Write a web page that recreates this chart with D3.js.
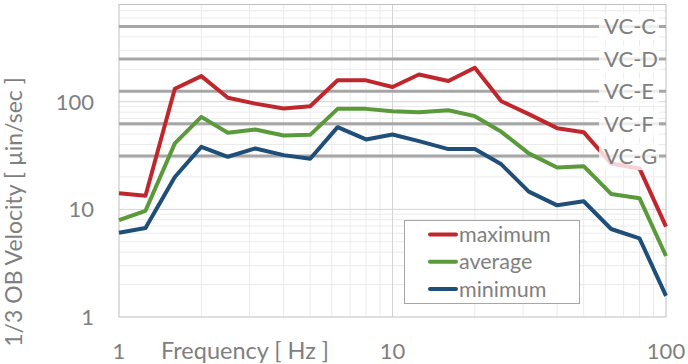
<!DOCTYPE html>
<html>
<head>
<meta charset="utf-8">
<script src="https://cdn.jsdelivr.net/npm/d3@7"></script>
<style>
  body { margin: 0; background: #fff; }
  svg text { font-family: Lato, "Open Sans", sans-serif; fill: #7f7f7f; }
</style>
</head>
<body>
<svg id="chart" width="688" height="364"></svg>
<script>
// 1/3 octave band centre frequencies
var freqs = [1, 1.25, 1.6, 2, 2.5, 3.15, 4, 5, 6.3, 8, 10, 12.5, 16, 20, 25, 31.5, 40, 50, 63, 80, 100];
var maximum = [14.1, 13.4, 132, 173, 109, 96, 86.5, 90.8, 158, 158, 137, 179, 156, 207, 101, 76.6, 56.8, 52.1, 26.7, 24.0, 6.9];
var average = [7.96, 9.7, 41, 72.3, 51.4, 55.2, 48.5, 49.2, 85.8, 85.8, 81.6, 79.9, 83.4, 73.4, 52.5, 33.1, 24.5, 25.2, 13.9, 12.7, 3.69];
var minimum = [6.07, 6.71, 20, 38.1, 30.8, 36.8, 31.9, 29.5, 58.0, 44.6, 49.6, 43.0, 36.3, 36.3, 26.2, 14.6, 10.9, 11.9, 6.57, 5.38, 1.57];

// vibration criteria curves
var vcNames = ["VC-C", "VC-D", "VC-E", "VC-F", "VC-G"];
var vcValues = [500, 250, 125, 62.5, 31.25];

var xTicks = [1, 10, 100];
var yTicks = [1, 10, 100];

var series = [
  {name: "maximum", values: maximum, color: "#c0272d"},
  {name: "average", values: average, color: "#5a9a3a"},
  {name: "minimum", values: minimum, color: "#1f4e79"}
];

var svg = d3.select("#chart");
var pl = 119, pr = 666, pt = 4.5, pb = 317;

var x = d3.scaleLog().domain([1, 100]).range([pl, pr]);
var y = d3.scaleLog().domain([1, 800]).range([pb, pt]);

// minor grid
var minorX = [];
[1, 10].forEach(function(d) { for (var k = 2; k <= 9; k++) minorX.push(d * k); });
var minorY = [];
[1, 10, 100].forEach(function(d) { for (var k = 2; k <= 9; k++) if (d * k <= 800) minorY.push(d * k); });

svg.append("g").selectAll("line").data(minorX).enter().append("line")
  .attr("x1", function(d) { return x(d); }).attr("x2", function(d) { return x(d); })
  .attr("y1", pt).attr("y2", pb)
  .attr("stroke", "#ebebeb").attr("stroke-width", 1);
svg.append("g").selectAll("line").data(minorY).enter().append("line")
  .attr("y1", function(d) { return y(d); }).attr("y2", function(d) { return y(d); })
  .attr("x1", pl).attr("x2", pr)
  .attr("stroke", "#ebebeb").attr("stroke-width", 1);

// major grid
svg.append("g").selectAll("line").data([10]).enter().append("line")
  .attr("x1", function(d) { return x(d); }).attr("x2", function(d) { return x(d); })
  .attr("y1", pt).attr("y2", pb)
  .attr("stroke", "#d4d4d4").attr("stroke-width", 1);
svg.append("g").selectAll("line").data([10, 100]).enter().append("line")
  .attr("y1", function(d) { return y(d); }).attr("y2", function(d) { return y(d); })
  .attr("x1", pl).attr("x2", pr)
  .attr("stroke", "#d4d4d4").attr("stroke-width", 1);

// plot border
svg.append("rect")
  .attr("x", pl).attr("y", pt).attr("width", pr - pl).attr("height", pb - pt)
  .attr("fill", "none").attr("stroke", "#bfbfbf").attr("stroke-width", 1);

// VC lines
svg.append("g").selectAll("line").data(vcValues).enter().append("line")
  .attr("x1", pl).attr("x2", pr)
  .attr("y1", function(d) { return y(d); }).attr("y2", function(d) { return y(d); })
  .attr("stroke", "#a6a6a6").attr("stroke-width", 3);

// data lines
var line = d3.line()
  .x(function(d) { return x(d[0]); })
  .y(function(d) { return y(d[1]); });

series.forEach(function(s) {
  svg.append("path")
    .datum(freqs.map(function(f, i) { return [f, s.values[i]]; }))
    .attr("d", line)
    .attr("fill", "none")
    .attr("stroke", s.color)
    .attr("stroke-width", 4)
    .attr("stroke-linejoin", "round");
});

// VC labels with translucent white backing
var vcG = svg.append("g").selectAll("g").data(vcValues).enter().append("g");
vcG.append("rect")
  .attr("x", 599).attr("width", 60)
  .attr("y", function(d) { return y(d) - 13; }).attr("height", 27)
  .attr("fill", "#fff").attr("fill-opacity", 0.8);
vcG.append("text")
  .attr("x", 604)
  .attr("y", function(d) { return y(d) + 8; })
  .style("font-size", "22px")
  .text(function(d, i) { return vcNames[i]; });

// axes labels
svg.append("g").selectAll("text").data(yTicks).enter().append("text")
  .attr("x", 94).attr("y", function(d) { return y(d) + 8; })
  .attr("text-anchor", "end")
  .style("font-size", "22px")
  .text(function(d) { return d; });

svg.append("g").selectAll("text").data(xTicks).enter().append("text")
  .attr("x", function(d) { return x(d); }).attr("y", 359)
  .attr("text-anchor", "middle")
  .style("font-size", "22px")
  .text(function(d) { return d; });

svg.append("text")
  .attr("x", 161).attr("y", 359)
  .style("font-size", "23.5px")
  .text("Frequency [ Hz ]");

svg.append("text")
  .attr("transform", "translate(22,212) rotate(-90)")
  .attr("text-anchor", "middle")
  .style("font-size", "23px")
  .text("1/3 OB Velocity [ µin/sec ]");

// legend
var lg = svg.append("g");
lg.append("rect")
  .attr("x", 404.5).attr("y", 220.5).attr("width", 175).attr("height", 83)
  .attr("fill", "#fff").attr("stroke", "#a6a6a6").attr("stroke-width", 1);
series.forEach(function(s, i) {
  var yy = 234.5 + i * 27.3;
  lg.append("line")
    .attr("x1", 430).attr("x2", 456).attr("y1", yy).attr("y2", yy)
    .attr("stroke", s.color).attr("stroke-width", 4).attr("stroke-linecap", "round");
  lg.append("text")
    .attr("x", 459).attr("y", yy + 7.5)
    .style("font-size", "21.5px")
    .text(s.name);
});
</script>
</body>
</html>
